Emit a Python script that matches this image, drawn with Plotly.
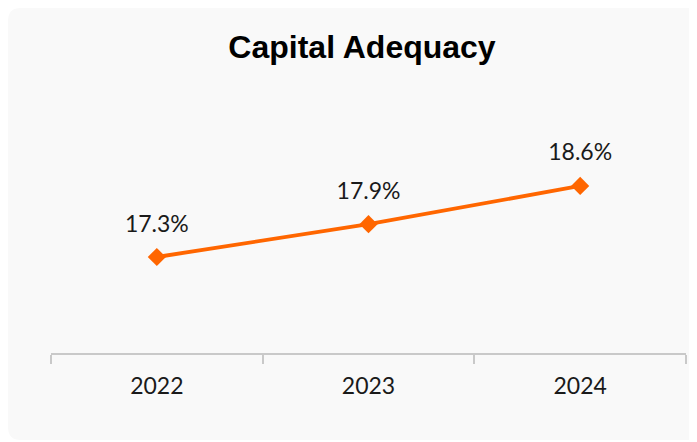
import plotly.graph_objects as go

years = ["2022", "2023", "2024"]
ratios = [17.3, 17.9, 18.6]
labels = ["17.3%", "17.9%", "18.6%"]

# figure is drawn 8px in from the page's top-left corner (body margin)
W, H = 697, 433
L, R, T, B = 43, 19, 82, 88
pw, ph = W - L - R, H - T - B
PX_PER_UNIT = 54.7

def px(x):
    return (x - L) / pw

def py(y):
    return (H - B - y) / ph

# rounded background panel (pixel coords converted to paper coords)
x0, y0, x1, y1, r = 0, 0, W + 30, 432, 13
path = (
    f"M {px(x0 + r)},{py(y0)} L {px(x1)},{py(y0)} L {px(x1)},{py(y1)} "
    f"L {px(x0 + r)},{py(y1)} Q {px(x0)},{py(y1)} {px(x0)},{py(y1 - r)} "
    f"L {px(x0)},{py(y0 + r)} Q {px(x0)},{py(y0)} {px(x0 + r)},{py(y0)} Z"
)

fig = go.Figure()
fig.add_trace(go.Scatter(
    x=years, y=ratios, mode="lines+markers",
    line=dict(color="#FF6600", width=3.8),
    marker=dict(symbol="diamond", size=14, color="#FF6600"),
    hoverinfo="skip", showlegend=False,
))
# value labels (invisible large markers push the text up)
fig.add_trace(go.Scatter(
    x=years, y=ratios, mode="markers+text", text=labels,
    textposition="top center",
    marker=dict(size=30, color="rgba(0,0,0,0)"),
    textfont=dict(family="Lato", size=23, color="#1a1a1a"),
    hoverinfo="skip", showlegend=False,
))

fig.update_layout(
    width=W, height=H,
    margin=dict(l=L, r=R, t=T, b=B),
    paper_bgcolor="white", plot_bgcolor="rgba(0,0,0,0)",
    title=dict(text="<b>Capital Adequacy</b>", x=354 / W, xanchor="center",
               y=1 - 39 / H, yanchor="middle",
               font=dict(family="Liberation Sans, Arial", size=32, color="#000000")),
    shapes=[dict(type="path", path=path, xref="paper", yref="paper",
                 fillcolor="#f9f9f9", line=dict(width=0), layer="below")],
    xaxis=dict(type="category", range=[-0.5, 2.5], showline=True,
               linecolor="#c9c9c9", linewidth=1.5, ticks="outside",
               tickson="boundaries", ticklen=9, tickcolor="#c9c9c9",
               tickwidth=1.5, showgrid=False, zeroline=False,
               tickfont=dict(family="Lato", size=23, color="#1a1a1a"),
               ticklabelstandoff=12),
    yaxis=dict(range=[17.3 - (H - B - 249) / PX_PER_UNIT,
                      17.3 + (249 - T) / PX_PER_UNIT],
               visible=False, showgrid=False, zeroline=False),
)
fig.write_html("out.html")
